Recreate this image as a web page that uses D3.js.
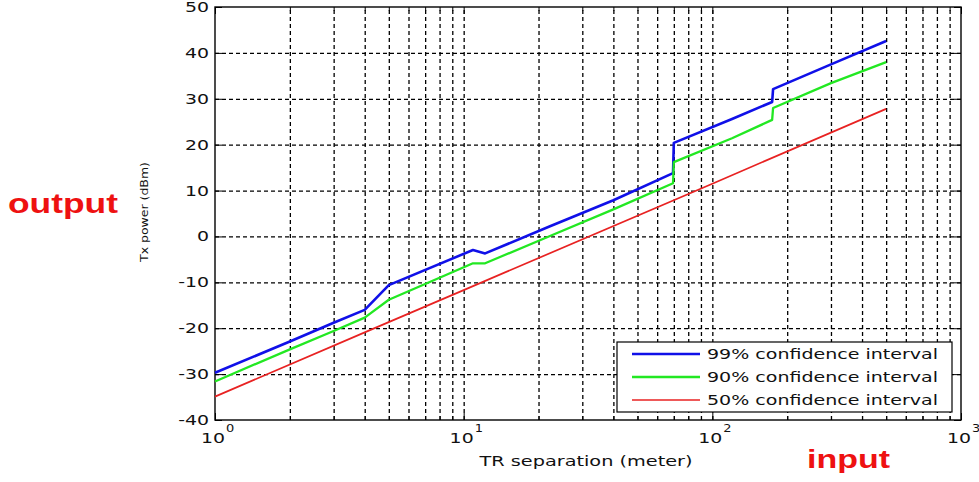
<!DOCTYPE html>
<html><head><meta charset="utf-8">
<script src="https://cdn.jsdelivr.net/npm/d3@7"></script>
<style>body{margin:0;background:#fff}svg{display:block}</style>
</head><body>
<svg id="c" width="979" height="482"></svg>
<script>
// ---- data ----
const yTicks = [-40, -30, -20, -10, 0, 10, 20, 30, 40, 50];
const xMajor = [1, 10, 100, 1000];
const xExp = ["0", "1", "2", "3"];
const seriesNames = ["99% confidence interval", "90% confidence interval", "50% confidence interval"];
const seriesColors = ["#1010e8", "#22e822", "#e82222"];
const blueX  = [1, 2, 3, 4, 5, 10.9, 12.2, 22, 40, 69.5, 70, 120, 174, 175.5, 300, 500];
const blueY  = [-29.7, -22.9, -18.8, -16.0, -10.6, -2.95, -3.7, 2.1, 7.9, 13.8, 20.4, 25.6, 29.3, 32.1, 37.5, 42.6];
const greenX = [1, 2, 3, 4, 5, 10.9, 12.2, 22, 40, 69.5, 70, 120, 174, 175.5, 300, 500];
const greenY = [-31.6, -24.6, -20.6, -17.7, -13.8, -5.85, -5.85, 0.0, 5.9, 11.6, 16.2, 21.4, 25.4, 28.0, 33.4, 38.0];
const redX   = [1, 4, 10, 100, 500];
const redY   = [-34.9, -20.9, -11.7, 11.5, 27.8];
const xLabel = "TR separation (meter)";
const yLabel = "Tx power (dBm)";

// ---- chart ----
const svg = d3.select("#c");
const m = {l: 215, r: 961, t: 7, b: 420};
const x = d3.scaleLog().domain([1, 1000]).range([m.l, m.r]);
const y = d3.scaleLinear().domain([-40, 50]).range([m.b, m.t]);
const FONT = "DejaVu Sans, Verdana, sans-serif";

// grid
const gridX = x.ticks().filter(v => v > 1 && v < 1000);
svg.append("g").attr("transform", `translate(0,${m.b})`)
  .call(d3.axisBottom(x).tickValues(gridX).tickSize(-(m.b - m.t)).tickFormat(""))
  .call(g => g.select(".domain").remove())
  .call(g => g.selectAll("line").attr("stroke", "#000").attr("stroke-width", 1.3).attr("stroke-dasharray", "4,3"));
svg.append("g").attr("transform", `translate(${m.l},0)`)
  .call(d3.axisLeft(y).tickValues(yTicks.filter(v => v > -40 && v < 50)).tickSize(-(m.r - m.l)).tickFormat(""))
  .call(g => g.select(".domain").remove())
  .call(g => g.selectAll("line").attr("stroke", "#000").attr("stroke-width", 1.3).attr("stroke-dasharray", "4,3"));

// inside ticks
function styleTicks(g){ g.select(".domain").remove(); g.selectAll("line").attr("stroke","#000").attr("stroke-width",1); }
const minorX = x.ticks().filter(v => !xMajor.includes(v));
svg.append("g").attr("transform", `translate(0,${m.b})`).call(d3.axisBottom(x).tickValues(xMajor).tickSize(-7).tickFormat("")).call(styleTicks);
svg.append("g").attr("transform", `translate(0,${m.b})`).call(d3.axisBottom(x).tickValues(minorX).tickSize(-4).tickFormat("")).call(styleTicks);
svg.append("g").attr("transform", `translate(0,${m.t})`).call(d3.axisTop(x).tickValues(xMajor).tickSize(-7).tickFormat("")).call(styleTicks);
svg.append("g").attr("transform", `translate(0,${m.t})`).call(d3.axisTop(x).tickValues(minorX).tickSize(-4).tickFormat("")).call(styleTicks);
svg.append("g").attr("transform", `translate(${m.l},0)`).call(d3.axisLeft(y).tickValues(yTicks).tickSize(-7).tickFormat("")).call(styleTicks);
svg.append("g").attr("transform", `translate(${m.r},0)`).call(d3.axisRight(y).tickValues(yTicks).tickSize(-7).tickFormat("")).call(styleTicks);

// box
svg.append("rect").attr("x", m.l).attr("y", m.t).attr("width", m.r - m.l).attr("height", m.b - m.t)
  .attr("fill", "none").attr("stroke", "#000").attr("stroke-width", 1.4);

// y tick labels
yTicks.forEach(v => {
  svg.append("text").attr("transform", `translate(209,${y(v)}) scale(1.35,1)`)
    .attr("text-anchor", "end").attr("dy", "0.36em")
    .attr("font-family", FONT).attr("font-size", 14).attr("fill", "#111").text(v);
});
// x tick labels
xMajor.forEach((v, i) => {
  const px = x(v);
  svg.append("text").attr("transform", `translate(${px + 10},443) scale(1.35,1)`)
    .attr("text-anchor", "end").attr("font-family", FONT).attr("font-size", 14).attr("fill", "#111").text("10");
  svg.append("text").attr("transform", `translate(${px + 11},432) scale(1.3,1)`)
    .attr("text-anchor", "start").attr("font-family", FONT).attr("font-size", 10).attr("fill", "#111").text(xExp[i]);
});

// axis labels
svg.append("text").attr("x", 586).attr("y", 466).attr("text-anchor", "middle")
  .attr("font-family", FONT).attr("font-size", 14).attr("fill", "#111")
  .attr("textLength", 213).attr("lengthAdjust", "spacingAndGlyphs").text(xLabel);
svg.append("text").attr("transform", "translate(148,212) rotate(-90)").attr("text-anchor", "middle")
  .attr("font-family", FONT).attr("font-size", 11).attr("fill", "#111")
  .attr("textLength", 100).attr("lengthAdjust", "spacingAndGlyphs").text(yLabel);

// lines
const line = d3.line().x(d => x(d[0])).y(d => y(d[1]));
const series = [
  {pts: d3.zip(blueX, blueY), w: 2.6},
  {pts: d3.zip(greenX, greenY), w: 2.3},
  {pts: d3.zip(redX, redY), w: 1.7}
];
series.forEach((s, i) => {
  svg.append("path").datum(s.pts).attr("d", line).attr("fill", "none")
    .attr("stroke", seriesColors[i]).attr("stroke-width", s.w).attr("stroke-linejoin", "round");
});

// legend
svg.append("rect").attr("x", 617).attr("y", 342).attr("width", 335).attr("height", 70)
  .attr("fill", "#fff").attr("stroke", "#000").attr("stroke-width", 1.2);
seriesNames.forEach((n, i) => {
  const cy = 354 + i * 23;
  svg.append("line").attr("x1", 632).attr("x2", 700).attr("y1", cy).attr("y2", cy)
    .attr("stroke", seriesColors[i]).attr("stroke-width", series[i].w);
  svg.append("text").attr("x", 707).attr("y", cy + 5).attr("font-family", FONT).attr("font-size", 14)
    .attr("fill", "#111").attr("textLength", 231).attr("lengthAdjust", "spacingAndGlyphs").text(n);
});

// annotations
svg.append("text").attr("x", 8).attr("y", 213).attr("font-family", "Liberation Sans, Arial, sans-serif")
  .attr("font-weight", "bold").attr("font-size", 28).attr("fill", "#ee1111")
  .attr("textLength", 110).attr("lengthAdjust", "spacingAndGlyphs").text("output");
svg.append("text").attr("x", 807).attr("y", 468).attr("font-family", "Liberation Sans, Arial, sans-serif")
  .attr("font-weight", "bold").attr("font-size", 26).attr("fill", "#ee1111")
  .attr("textLength", 83).attr("lengthAdjust", "spacingAndGlyphs").text("input");
</script>
</body></html>
